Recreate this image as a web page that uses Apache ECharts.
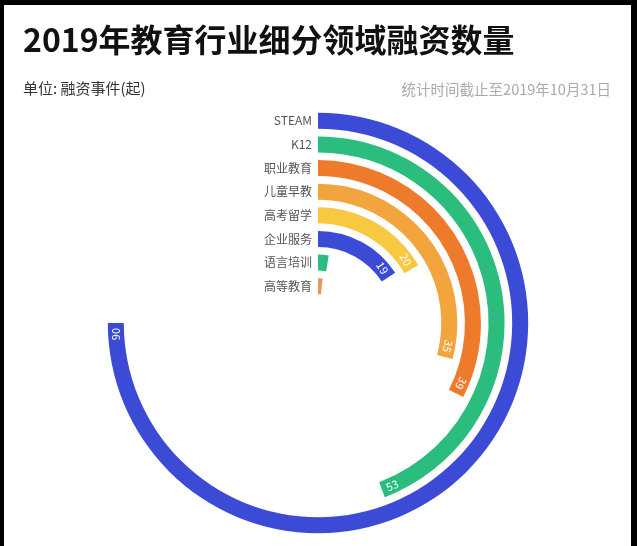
<!DOCTYPE html>
<html>
<head>
<meta charset="utf-8">
<script src="https://cdn.jsdelivr.net/npm/echarts@6/dist/echarts.min.js"></script>
<style>
html,body{margin:0;padding:0;background:#000;width:637px;height:546px;overflow:hidden;}
#c{position:absolute;left:4px;top:5px;width:627px;height:541px;background:#fff;}
</style>
</head>
<body>
<div id="c"></div>
<script>
const categories = ['STEAM','K12','职业教育','儿童早教','高考留学','企业服务','语言培训','高等教育'];
const values = [90, 53, 39, 35, 20, 19, 3, 2];
const colors = ['#3b4bd6','#2bbd7d','#ee7a2c','#f2a53c','#f7c940','#3b4bd6','#2bbd7d','#e89a5e'];
const angleMax = 120;
const titleText = '2019年教育行业细分领域融资数量';
const unitText = '单位: 融资事件(起)';
const noteText = '统计时间截止至2019年10月31日';

const chart = echarts.init(document.getElementById('c'));
chart.setOption({
  backgroundColor: '#fff',
  title: [
    {text: titleText, left: 14, top: 14, textStyle: {fontFamily: 'Noto Sans CJK SC', fontSize: 32, fontWeight: 'bold', color: '#111'}},
    {text: unitText, left: 14, top: 71, textStyle: {fontFamily: 'Noto Sans CJK SC', fontSize: 15, fontWeight: 'normal', color: '#333'}},
    {text: noteText, right: 15, top: 72, textStyle: {fontFamily: 'Noto Sans CJK SC', fontSize: 14.5, fontWeight: 'normal', color: '#aaa'}}
  ],
  polar: {center: [314, 318], radius: [25, 214]},
  angleAxis: {type: 'value', min: 0, max: angleMax, startAngle: 90, clockwise: true, show: false},
  radiusAxis: {
    type: 'category', data: categories, inverse: true,
    axisLine: {show: false}, axisTick: {show: false}, splitLine: {show: false},
    axisLabel: {interval: 0, fontFamily: 'Noto Sans CJK SC', fontSize: 12, color: '#555', margin: 6}
  },
  series: [{
    type: 'bar', coordinateSystem: 'polar', barWidth: 16,
    data: values.map((v, i) => {
      const angleDeg = v / angleMax * 360;
      const flip = angleDeg > 135 && angleDeg < 225;
      return {
        value: v,
        itemStyle: {color: colors[i]},
        label: flip ? {show: true, align: 'left', rotate: (180 - angleDeg + 3) * Math.PI / 180} : {show: v >= 10}
      };
    }),
    label: {
      position: 'insideEnd', rotate: 'tangential', color: '#fff',
      fontFamily: 'Noto Sans CJK SC', fontSize: 11
    },
    animation: false
  }]
});
</script>
</body>
</html>
